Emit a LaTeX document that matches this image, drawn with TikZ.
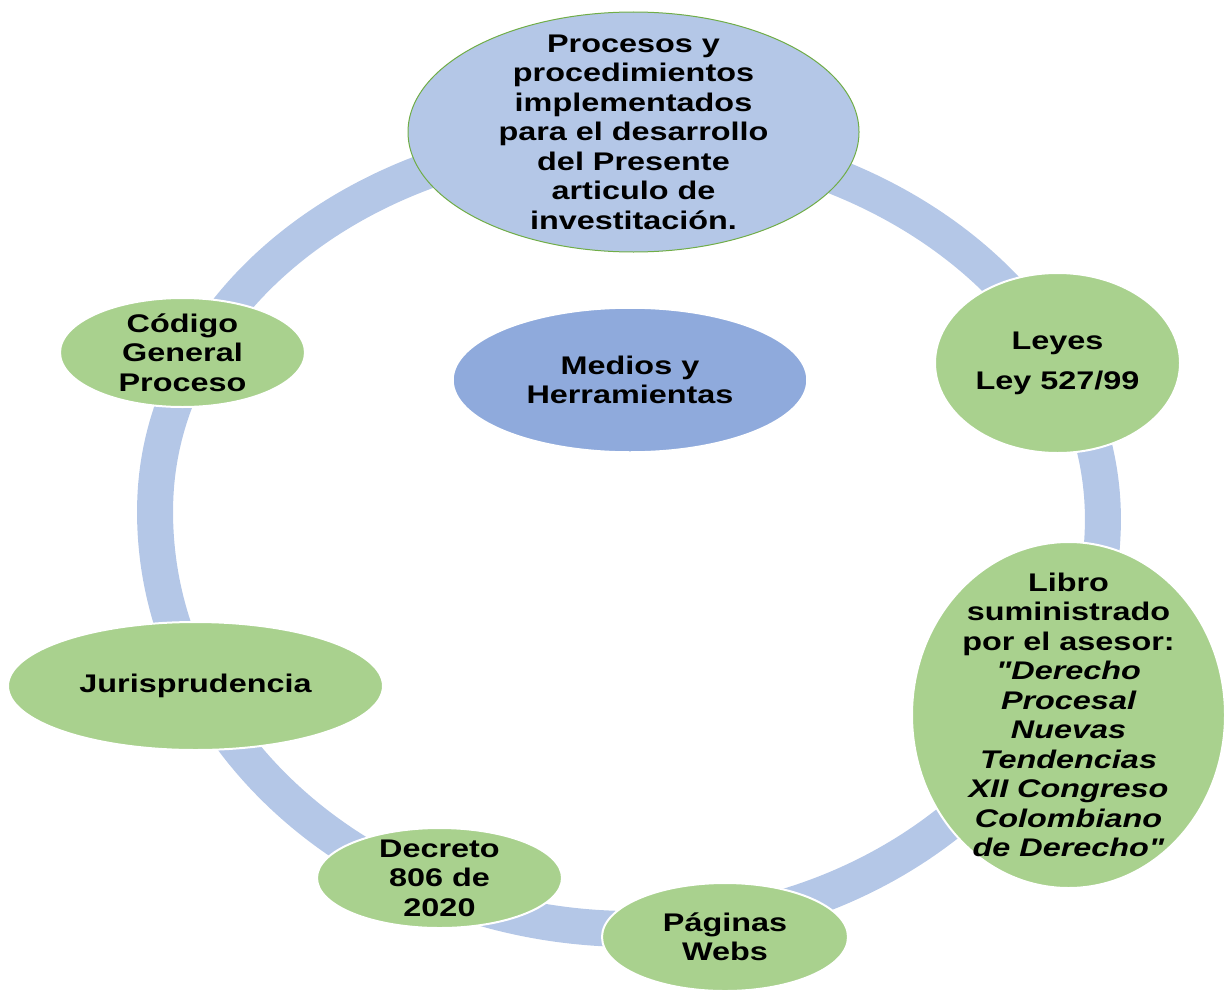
\documentclass[tikz,border=0pt]{standalone}
\usepackage{fontspec}
\setmainfont{Liberation Sans}[FakeStretch=1.27, Ligatures=TeXOff]
\usetikzlibrary{shapes.geometric}
\definecolor{ringblue}{HTML}{B4C7E7}
\definecolor{nodegreen}{HTML}{A9D18E}
\definecolor{midblue}{HTML}{8FAADC}
\definecolor{edgegreen}{HTML}{70AD47}
\begin{document}
\begin{tikzpicture}[x=1pt,y=-1pt,
  txt/.style={font=\fontsize{25.5}{29.5}\selectfont\bfseries, align=center, inner sep=0pt, text=black},
  oval/.style={ellipse, inner sep=0pt, minimum width=#1},
  greenoval/.style={oval=#1, fill=nodegreen, draw=white, line width=2pt},
  ring/.style={draw=ringblue, line width=36pt}]
\useasboundingbox (0,0) rectangle (1225,990);
% ring
\coordinate (rc) at (629,515);
\draw[ring, rotate around={-1.5:(rc)}] (155,515)
  arc[start angle=180, end angle=0, x radius=474pt, y radius=378pt]
  arc[start angle=0, end angle=-180, x radius=474pt, y radius=414pt] -- cycle;
% ellipses
\node[oval=451pt, minimum height=240pt, fill=ringblue, draw=edgegreen, line width=1pt] (top) at (633.5,132) {};
\node[oval=354pt, minimum height=144pt, fill=midblue, draw=white, line width=1.5pt] (mid) at (630,380) {};
\node[greenoval=245pt, minimum height=180pt] (ley) at (1057.5,363) {};
\node[greenoval=313pt, minimum height=346pt] (lib) at (1068.5,715) {};
\node[greenoval=246pt, minimum height=108pt] (pag) at (725,937) {};
\node[greenoval=245pt, minimum height=100pt] (dec) at (439.5,878) {};
\node[greenoval=375pt, minimum height=128pt] (jur) at (195.5,686) {};
\node[greenoval=245pt, minimum height=109pt] (cod) at (182.5,352.5) {};
% texts
\node[txt] (topt) at (top) {Procesos y\\procedimientos\\implementados\\para el desarrollo\\del Presente\\articulo de\\investitación.};
\node[txt] (midt) at (mid) {Medios y\\Herramientas};
\node[txt] (leyt) at (ley) {Leyes\\[10.5pt]Ley 527/99};
\node[txt] (libt) at (lib) {Libro\\suministrado\\por el asesor:\\\itshape "Derecho\\\itshape Procesal\\\itshape Nuevas\\\itshape Tendencias\\\itshape XII Congreso\\\itshape Colombiano\\\itshape de Derecho"};
\node[txt] (pagt) at (pag) {Páginas\\Webs};
\node[txt] (dect) at (dec) {Decreto\\806 de\\2020};
\node[txt] (jurt) at (jur) {Jurisprudencia};
\node[txt] (codt) at (cod) {Código\\General\\Proceso};
\end{tikzpicture}
\end{document}
